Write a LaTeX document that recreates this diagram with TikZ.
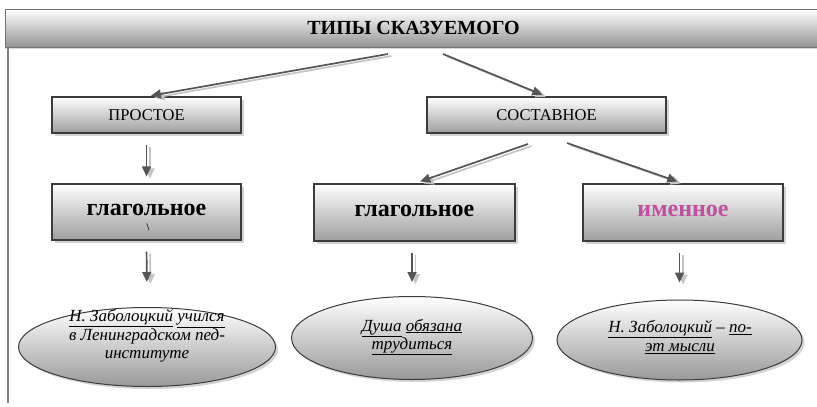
\documentclass[tikz,border=0pt]{standalone}
\usepackage{fontspec}
\setmainfont{Liberation Serif}
\usetikzlibrary{arrows.meta,shapes.geometric,shadows}
\definecolor{edgec}{HTML}{3C3C3C}
\definecolor{arrowc}{HTML}{555555}
\definecolor{arrowsh}{HTML}{C4C4C4}
\definecolor{imenc}{HTML}{C050A0}
\begin{document}
\begin{tikzpicture}[x=1pt,y=-1pt,
  box/.style={draw=edgec, line width=1.1pt, rectangle, top color=white, bottom color=black!38,
    drop shadow={shadow xshift=2.5pt, shadow yshift=-2.5pt, opacity=0.35}, inner sep=0pt},
  titlebox/.style={draw=black!55, line width=1pt, rectangle, top color=white, bottom color=black!42,
    drop shadow={shadow xshift=0pt, shadow yshift=-2pt, opacity=0.3}, inner sep=0pt,
    font=\fontsize{20}{24}\selectfont\bfseries},
  smallbox/.style={box, font=\fontsize{16.5}{20}\selectfont},
  bigbox/.style={box, font=\fontsize{24}{28}\selectfont\bfseries},
  ell/.style={draw=edgec, line width=1pt, ellipse, top color=white, bottom color=black!40,
    drop shadow={shadow xshift=2.5pt, shadow yshift=-2.5pt, opacity=0.35}, inner sep=0pt},
  etext/.style={font=\fontsize{17}{18.5}\selectfont\itshape, align=center, inner sep=0pt},
  arr/.style={-{Triangle[width=9pt,length=10pt]}, draw=arrowc, line width=1.7pt,
    preaction={draw=arrowsh, line width=1.7pt, -{Triangle[width=9pt,length=10pt]},
      transform canvas={xshift=3.5pt,yshift=-2pt}}}
]
\useasboundingbox (0,0) rectangle (817,407);

% title bar
\node[titlebox, minimum width=817pt, minimum height=38pt] (title) at (413.5,28) {ТИПЫ СКАЗУЕМОГО};
\coordinate (lb) at (8,403);
\draw[black!50, line width=1.2pt] (title.south west -| lb) -- (lb);

% boxes
\node[smallbox, minimum width=189pt, minimum height=36pt] (prost) at (146.5,115) {ПРОСТОЕ};
\node[smallbox, minimum width=239pt, minimum height=36pt] (sost) at (546.5,115) {СОСТАВНОЕ};
\node[bigbox, minimum width=189pt, minimum height=56pt] (glag1) at (146.5,212) {\raisebox{4pt}{глагольное}};
\node[font=\fontsize{10}{10}\selectfont\bfseries, inner sep=0pt] (mark) at (148,227) {\textbackslash};
\node[bigbox, minimum width=201pt, minimum height=57pt] (glag2) at (414.5,212.5) {\raisebox{4pt}{глагольное}};
\node[bigbox, minimum width=200pt, minimum height=57pt, text=imenc] (imen) at (683,212.5) {\raisebox{4pt}{именное}};

% ellipses
\node[ell, minimum width=257pt, minimum height=79pt] (ell1) at (147,347) {};
\node[etext] (ell1t) at (147,336) {\underline{Н. Заболоцкий} \underline{учился}\\в Ленинградском пед-\\институте};
\node[ell, minimum width=241pt, minimum height=83pt] (ell2) at (412,338) {};
\node[etext] (ell2t) at (412,337) {\underline{Душа} \underline{обязана}\\\underline{трудиться}};
\node[ell, minimum width=245pt, minimum height=80pt] (ell3) at (679.5,340) {};
\node[etext] (ell3t) at (680,337) {\underline{Н. Заболоцкий} – \underline{по-}\\\underline{эт мысли}};

% connectors
\coordinate (t1) at (388,54);
\coordinate (t2) at (443,54);
\coordinate (s1) at (528,144);
\coordinate (s2) at (567,143);
\draw[arr, shorten >=4.5pt] (t1) -- (prost.north);
\draw[arr, shorten >=4.5pt] (t2) -- (sost.north);
\draw[arr, shorten >=6pt] (s1) -- (glag2.north);
\draw[arr, shorten >=6pt] (s2) -- (imen.north);
\draw[arr, shorten <=11pt, shorten >=7pt] (prost.south) -- (glag1.north);
\draw[arr, shorten <=11pt, shorten >=25pt] (glag1.south) -- (ell1.north);
\draw[arr, shorten <=11pt, shorten >=14pt] (ell2.north |- glag2.south) -- (ell2.north);
\draw[arr, shorten <=11pt, shorten >=17pt] (ell3.north |- imen.south) -- (ell3.north);
\end{tikzpicture}
\end{document}
